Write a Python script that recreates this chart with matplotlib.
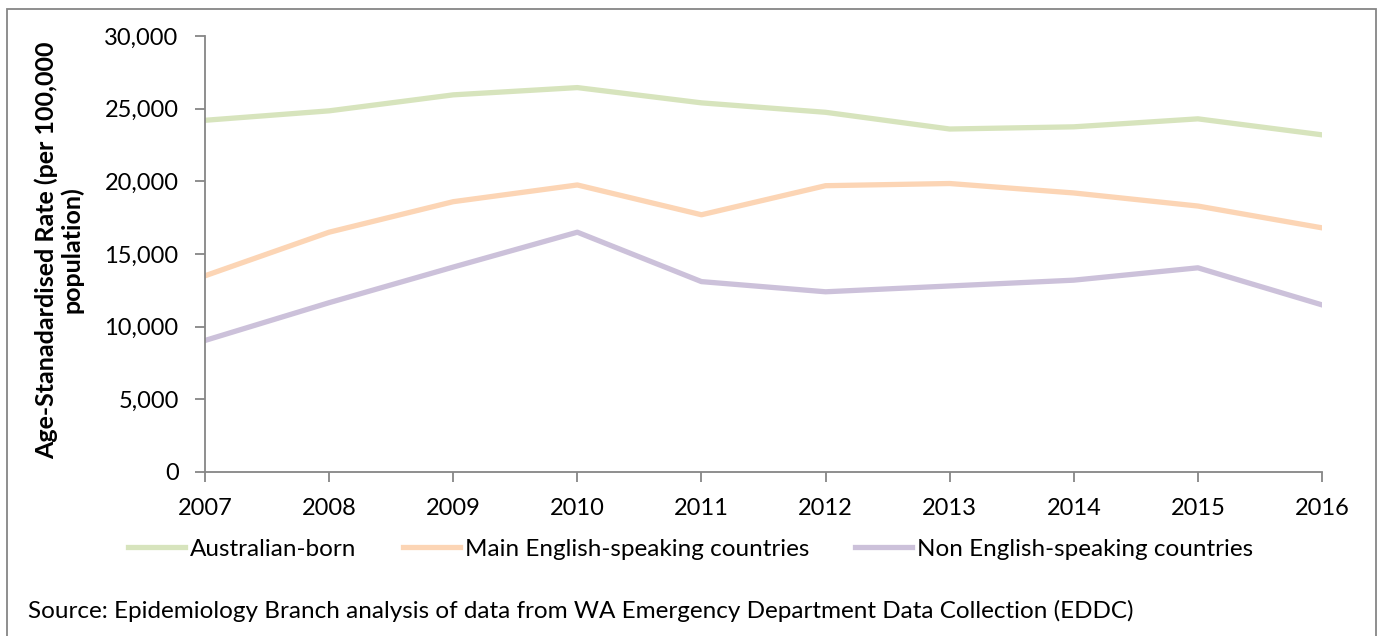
import matplotlib.pyplot as plt
from matplotlib.patches import Rectangle

years = [2007, 2008, 2009, 2010, 2011, 2012, 2013, 2014, 2015, 2016]
australian = [24200, 24850, 25950, 26450, 25400, 24750, 23600, 23750, 24300, 23200]
main_english = [13500, 16500, 18600, 19750, 17700, 19700, 19850, 19200, 18300, 16800]
non_english = [9050, 11650, 14100, 16500, 13100, 12400, 12800, 13200, 14050, 11500]

plt.rcParams['font.family'] = ['Lato', 'DejaVu Sans']

fig = plt.figure(figsize=(13.78, 6.36), dpi=100)
ax = fig.add_axes([205/1378, 1-472/636, (1322-205)/1378, (472-36)/636])

ax.plot(years, australian, color='#D7E4BD', lw=3.8, label='Australian-born')
ax.plot(years, main_english, color='#FCD5B5', lw=3.8, label='Main English-speaking countries')
ax.plot(years, non_english, color='#CCC1DA', lw=3.8, label='Non English-speaking countries')

ax.set_xlim(2007, 2016)
ax.set_ylim(0, 30000)
ax.set_xticks(years)
ax.set_xticklabels([str(y) for y in years])
ax.set_yticks(range(0, 30001, 5000))
ax.set_yticklabels([f'{v:,}' for v in range(0, 30001, 5000)])
for s in ['top', 'right']:
    ax.spines[s].set_visible(False)
for s in ['left', 'bottom']:
    ax.spines[s].set_color('#868686')
    ax.spines[s].set_linewidth(1.3)
ax.tick_params(axis='both', colors='#868686', width=1.3, length=7, labelsize=17, labelcolor='black')
ax.tick_params(axis='x', pad=12)
ax.tick_params(axis='y', pad=12)

# y label drawn as figure text so it can sit close to the border
fig.text(59/1378, 1-250/636, 'Age-Stanadardised Rate (per 100,000\npopulation)', rotation=90,
         fontsize=18, fontweight='bold', ha='center', va='center', multialignment='center',
         linespacing=1.05)

fig.legend(loc='center left', bbox_to_anchor=(128/1378, 1-549/636), ncol=3, frameon=False,
           fontsize=17.5, handlelength=2.35, handletextpad=0.2, columnspacing=1.9, borderaxespad=0,
           borderpad=0)

fig.text(28/1378, 1-611/636, 'Source: Epidemiology Branch analysis of data from WA Emergency Department Data Collection (EDDC)',
         fontsize=17.5, va='center', ha='left')

fig.patches.append(Rectangle((7/1378, -0.01), (1376-7)/1378, 1.01-9/636, transform=fig.transFigure,
                             fill=False, edgecolor='#868686', lw=1.3))

fig.savefig('out.png', dpi=100)
